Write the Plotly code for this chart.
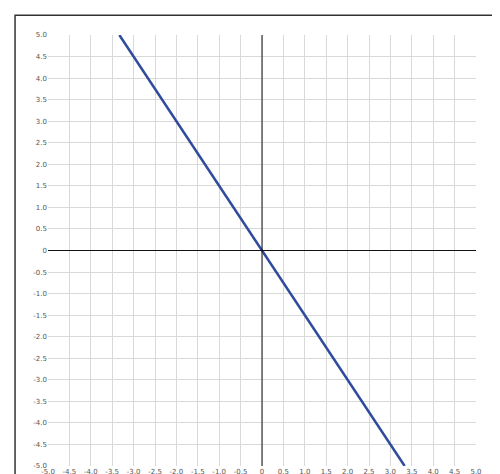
import plotly.graph_objects as go

line_x = [-3.333, 3.333]
line_y = [5.0, -5.0]
tick_vals = [-5 + 0.5 * i for i in range(21)]
tick_text = ["0" if v == 0 else f"{v:.1f}" for v in tick_vals]

fig = go.Figure()
fig.add_trace(go.Scatter(x=line_x, y=line_y, mode="lines",
                         line=dict(color="#2f4b9c", width=2.5), hoverinfo="skip"))

ax_common = dict(range=[-5, 5], tickvals=tick_vals, ticktext=tick_text,
                 showgrid=True, gridcolor="#d9d9d9", gridwidth=1, zeroline=False,
                 showline=False, ticks="", automargin=False,
                 tickfont=dict(size=7, color="#555", family="DejaVu Sans"),
                 fixedrange=True)
fig.update_xaxes(**ax_common)
fig.update_yaxes(**ax_common)

fig.update_layout(width=500, height=474, plot_bgcolor="white", paper_bgcolor="white",
                  margin=dict(l=40, r=32, t=27, b=16), showlegend=False)

# outer frame
fig.add_shape(type="rect", xref="paper", yref="paper", x0=-0.077, x1=1.063, y0=-0.1, y1=1.046,
              line=dict(color="#333", width=1.5))
# axis lines
fig.add_shape(type="line", xref="x", yref="y", x0=-5, x1=5.25, y0=0, y1=0,
              line=dict(color="#111", width=1))
fig.add_shape(type="line", xref="x", yref="y", x0=0, x1=0, y0=-5, y1=5.35,
              line=dict(color="#111", width=1))
# arrowheads
fig.add_annotation(x=5.3, y=0, xref="x", yref="y", ax=-8, ay=0,
                   showarrow=True, arrowhead=2, arrowsize=1.2, arrowwidth=1, arrowcolor="#111", text="")
fig.add_annotation(x=0, y=5.4, xref="x", yref="y", ax=0, ay=8,
                   showarrow=True, arrowhead=2, arrowsize=1.2, arrowwidth=1, arrowcolor="#111", text="")
fig.add_annotation(x=5.5, y=0.25, xref="x", yref="y", text="X", showarrow=False,
                   font=dict(size=11, color="#222", family="DejaVu Serif"))
fig.add_annotation(x=0.3, y=5.33, xref="x", yref="y", text="Y", showarrow=False,
                   font=dict(size=11, color="#222", family="DejaVu Serif"))

fig.write_html("out.html")
